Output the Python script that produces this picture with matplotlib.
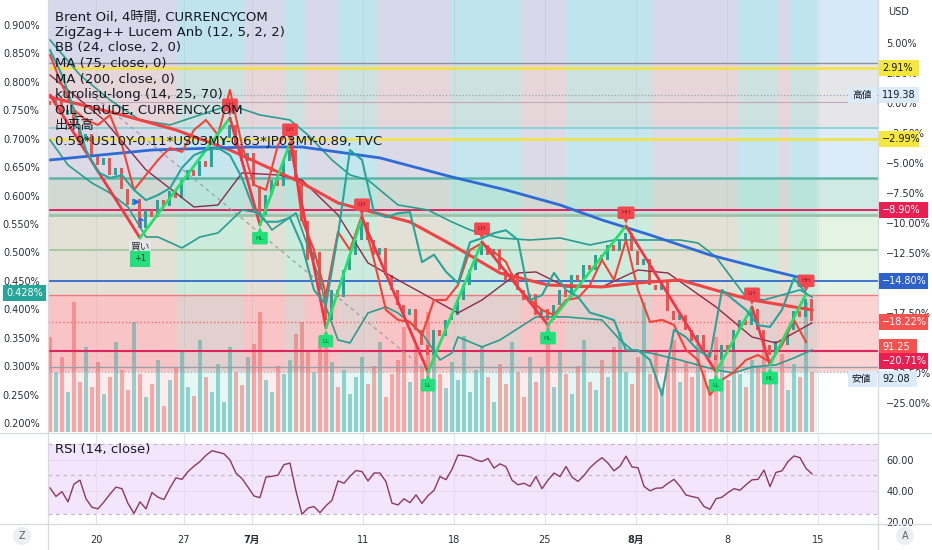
import numpy as np
import matplotlib
matplotlib.use("Agg")
import matplotlib.pyplot as plt
from matplotlib.patches import Rectangle, Circle
from matplotlib.lines import Line2D
import matplotlib.transforms as mtransforms

plt.rcParams['font.family'] = ['DejaVu Sans', 'Noto Sans CJK JP']

# ---------------- data (Brent 4h, percent vs. reference price) ----------------
closes = [-0.2, 0.3, -1.0, -0.6, -1.8, -3.1, -2.6, -4.3,
          -5.2, -4.6, -6.0, -5.4, -7.2, -8.5, -8.0, -10.4,
          -8.9, -9.5, -8.1, -8.6, -7.3, -7.9, -6.4, -5.6,
          -6.1, -4.8, -5.3, -3.9, -3.5, -2.9, -1.8, -3.6,
          -4.8, -4.2, -6.9, -9.3, -7.7, -6.4, -6.9, -4.8,
          -3.9, -6.4, -9.8, -13.1, -12.4, -15.6, -18.1, -15.6,
          -16.2, -13.9, -12.7, -11.4, -9.9, -11.4, -12.7, -12.1,
          -14.3, -15.6, -16.8, -17.7, -17.2, -18.9, -20.2, -21.0,
          -18.9, -19.4, -18.1, -17.7, -16.4, -15.2, -13.9, -12.7,
          -11.8, -12.7, -12.2, -13.9, -14.8, -14.2, -15.6, -16.4,
          -15.9, -17.7, -17.2, -18.1, -16.8, -15.6, -16.2, -14.3,
          -14.8, -13.5, -13.9, -12.7, -13.1, -11.8, -12.3, -11.4,
          -10.8, -12.3, -13.5, -13.0, -15.2, -15.6, -14.9, -17.3,
          -18.1, -17.7, -18.9, -19.8, -19.3, -20.6, -21.0, -21.4,
          -20.2, -20.6, -18.9, -18.1, -18.5, -17.2, -18.9, -20.2,
          -21.0, -19.8, -20.2, -18.9, -17.3, -17.8, -16.3, -18.2]

volumes = [95, 60, 75, 40, 130, 50, 85, 45, 70, 38, 55, 90, 62, 42, 110, 58,
           35, 48, 72, 26, 52, 64, 80, 45, 36, 92, 55, 40, 68, 30, 85, 60,
           47, 75, 88, 120, 52, 40, 66, 58, 72, 98, 110, 80, 60, 95, 100, 70,
           45, 62, 38, 55, 75, 48, 66, 90, 35, 58, 72, 105, 50, 86, 64, 120,
           80, 58, 44, 70, 52, 96, 40, 62, 85, 55, 30, 68, 48, 90, 60, 35,
           75, 50, 64, 110, 45, 80, 58, 38, 66, 92, 50, 42, 72, 55, 85, 100,
           60, 48, 75, 130, 58, 82, 44, 68, 92, 50, 70, 55, 88, 62, 46, 95,
           70, 52, 80, 58, 45, 72, 66, 90, 50, 60, 78, 42, 68, 55, 130, 60]

rsi = [42, 36.5, 39.6, 33, 44.5, 47, 35, 29.5, 28.5, 33, 38, 42.5, 41.5, 32, 25.5, 33,
       28.5, 39, 36, 34.5, 42, 48.5, 47.5, 52.5, 56, 59, 63, 66, 65, 64, 60, 51.5,
       48, 42.5, 36.8, 35.7, 49, 49.5, 50.2, 57, 58, 40, 25, 29, 30, 26, 30.5, 34,
       46.5, 45, 49.5, 53.2, 52.5, 46.5, 51.6, 51.6, 46, 32.2, 31, 35, 32.5, 37.5, 32, 37,
       40.4, 49.3, 47.3, 54, 63.2, 62.8, 62, 60, 59, 61, 54.8, 57.5, 55.7, 47, 44, 45,
       43, 49.3, 41.5, 47, 51.6, 49.3, 55.8, 49, 46.2, 50, 55, 58.6, 61.5, 58, 53, 56,
       62.5, 55.5, 55, 43, 40.1, 41.8, 42, 45, 47.5, 43, 37.4, 36.4, 35.6, 30, 28.2, 35,
       36, 39, 41.5, 40.5, 44, 47.2, 47.5, 53.5, 42.8, 52, 53, 59, 62.6, 61.5, 54.6, 51]

# yield spread (left axis, %), every second bar
spread = [0.856, 0.812, 0.751, 0.680, 0.641, 0.631, 0.636, 0.610, 0.592, 0.601,
          0.613, 0.649, 0.671, 0.680, 0.684, 0.671, 0.631, 0.575, 0.554, 0.554,
          0.561, 0.513, 0.434, 0.408, 0.531, 0.680, 0.663, 0.571, 0.562, 0.569,
          0.571, 0.483, 0.496, 0.466, 0.446, 0.518, 0.525, 0.534, 0.539, 0.522,
          0.416, 0.425, 0.464, 0.434, 0.422, 0.394, 0.388, 0.381, 0.328, 0.328,
          0.311, 0.249, 0.364, 0.351, 0.328, 0.316, 0.434, 0.416, 0.399, 0.372,
          0.369, 0.399, 0.455, 0.428]

# OIL_CRUDE comparison (right axis, %), every second bar
oil = [4.0, 1.5, -0.58, -1.42, -1.83, -1.0, -3.5, -7.25, -6.0, -4.75,
       -3.75, -4.08, -2.25, -1.42, -2.67, 1.08, -3.5, -6.83, -7.25, -3.5,
       -2.08, -9.75, -12.25, -16.0, -10.75, -12.25, -9.33, -13.08, -17.25, -18.08,
       -18.25, -19.33, -16.42, -16.42, -15.17, -12.25, -11.67, -12.42, -13.25, -15.42,
       -16.42, -17.25, -17.67, -16.42, -16.25, -15.17, -13.08, -14.75, -11.42, -15.58,
       -18.25, -18.08, -18.5, -20.58, -21.42, -24.33, -23.08, -22.42, -21.42, -21.0,
       -21.58, -20.17, -18.08, -19.92]

ma75_x = [0, 12, 21, 30, 42, 48, 60, 67, 75, 83, 92, 98, 105, 112, 117, 127]
ma75_y = [0.5, -1.0, -2.25, -3.92, -6.67, -8.33, -9.92, -11.83, -14.17, -15.17,
          -15.33, -15.0, -14.75, -15.75, -16.42, -17.25]

ma200_x = [0, 17, 33, 42, 55, 67, 76, 85, 92, 100, 110, 118, 127]
ma200_y = [-4.75, -3.92, -3.67, -3.67, -4.58, -6.17, -7.25, -8.5, -9.75, -11.0,
           -12.67, -13.7, -14.8]

basis_x = [0, 5, 9, 16, 24, 28, 32, 38, 42, 48, 53, 58, 68, 72, 78, 81, 86, 92,
           98, 103, 111, 117, 121, 127]
basis_y = [2.33, 0.25, -1.42, -5.58, -8.67, -8.5, -5.83, -6.0, -6.42, -9.33, -13.33,
           -14.75, -17.5, -16.42, -14.17, -14.08, -15.33, -15.33, -13.92, -14.17,
           -17.0, -19.5, -20.0, -18.33]

bb_up_x = [0, 5, 10, 15, 20, 25, 30, 35, 40, 43, 47, 50, 53, 58, 63, 67, 70, 75,
           80, 85, 90, 94, 100, 105, 108, 111, 113, 116, 119, 125, 127]
bb_up_y = [5.25, 2.33, 0.25, -1.42, -1.83, -1.0, -0.17, -1.0, -1.42, -2.67, -4.75,
           -6.0, -6.42, -8.5, -8.92, -9.92, -10.58, -11.25, -11.42, -11.25, -11.83,
           -11.42, -11.42, -11.42, -11.67, -12.83, -14.17, -16.17, -16.42, -15.58,
           -16.17]

bb_lo_x = [0, 3, 7, 10, 13, 16, 18, 22, 25, 28, 32, 35, 37, 41, 43, 45, 46, 48,
           50, 53, 56, 58, 62, 65, 67, 68, 72, 75, 81, 86, 92, 95, 97, 100, 105,
           111, 114, 117, 121, 124, 127]
bb_lo_y = [-3.08, -5.17, -6.67, -7.5, -8.67, -11.17, -11.17, -12.08, -11.17, -10.83,
           -8.92, -9.17, -10.58, -9.17, -12.0, -14.75, -17.0, -19.75, -20.0, -17.5,
           -17.0, -17.5, -19.17, -21.42, -20.83, -19.5, -20.33, -19.75, -17.83,
           -17.83, -18.08, -19.75, -20.58, -20.83, -21.42, -22.25, -22.5, -22.0,
           -21.83, -21.25, -20.58]

zz_x = [0, 15, 30, 35, 40, 46, 52, 63, 72, 83, 96, 111, 117, 120, 126]
zz_y = [0.67, -11.25, -1.25, -10.17, -3.33, -18.75, -9.58, -22.42, -11.58, -18.5,
        -10.25, -22.42, -17.0, -21.83, -15.92]
zz_tags = ['', '', 'LH', 'HL', 'LH', 'LL', 'LH', 'LL', 'LH', 'HL', 'HH', 'LL', 'LH', 'HL', 'HH']

trend_x = [6.7, 63]
trend_y = [0.8, -22.4]

regime_edges = [-0.33, 21.2, 32.3, 39.2, 42.5, 48, 54.5, 66.7, 78.5, 86, 100.3,
                114.7, 121.3, 123.3, 127.8]
regime_bull = [False, True, False, True, False, True, False, True, False, True,
               False, True, False, True]

zone_tops = [8.6, 3.33, -2.08, -6.25, -9.33, -16.0]
zone_bots = [3.33, -2.08, -6.25, -9.33, -16.0, -22.42]
zone_cols = ['#d6e9f9', '#e6e6e9', '#dcebf8', '#cfeae2', '#e3f3e4', '#fbd3d3']

level_vals = [3.33, 2.91, 0.67, 0.08, -2.08, -2.99, -6.25, -8.90, -9.33, -12.25,
              -14.80, -16.0, -18.22, -20.71, -22.0, -22.42]
level_cols = ['#8d929e', '#f3e33c', '#98a2b6', '#c2a7ba', '#7fcfd6', '#f3e33c',
              '#5db6a6', '#e0245e', '#9cc2aa', '#a9c9a9', '#3268d0', '#f07a7e',
              '#f26b6b', '#e0245e', '#9a9ea8', '#a8adb8']
level_lw = [1.0, 1.8, 0.9, 0.8, 1.2, 1.8, 1.8, 1.4, 2.0, 1.5, 1.3, 1.0, 1.0, 1.5, 1.0, 0.9]
level_ls = ['-', '-', ':', '-', '-', '-', '-', '-', '-', '-', '-', '-', ':', '-', '-', ':']

right_ticks = [5, 2.5, 0, -2.5, -5, -7.5, -10, -12.5, -17.5, -22.5, -25]
left_ticks = [0.2, 0.25, 0.3, 0.35, 0.4, 0.45, 0.5, 0.55, 0.6, 0.65, 0.7, 0.75, 0.8, 0.85, 0.9]

date_pos = [7.67, 22.33, 33.67, 52.17, 67.33, 82.5, 97.67, 112.83, 128]
date_lbl = ['20', '27', '7月', '11', '18', '25', '8月', '8', '15']

legend_lines = ['Brent Oil, 4時間, CURRENCYCOM',
                'ZigZag++ Lucem Anb (12, 5, 2, 2)',
                'BB (24, close, 2, 0)',
                'MA (75, close, 0)',
                'MA (200, close, 0)',
                'kurolisu-long (14, 25, 70)',
                'OIL_CRUDE, CURRENCY.COM',
                '出来高',
                '0.59*US10Y-0.11*US03MY-0.63*JP03MY-0.89, TVC']

# ---------------- figure ----------------
W, H = 932, 550
fig = plt.figure(figsize=(W / 100, H / 100), dpi=100)
fig.patch.set_facecolor('white')
PX = mtransforms.Affine2D().scale(1 / W, -1 / H).translate(0, 1) + fig.transFigure

L, R, B = 48, 878, 432
RT, RB = 434, 524
main_rect = [L / W, 1 - B / H, (R - L) / W, B / H]
rsi_rect = [L / W, 1 - RB / H, (R - L) / W, (RB - RT) / H]

ax_bg = fig.add_axes(main_rect, zorder=0)
ax_vol = fig.add_axes(main_rect, zorder=1, sharex=ax_bg)
ax = fig.add_axes(main_rect, zorder=2, sharex=ax_bg, sharey=ax_bg)
ax_left = fig.add_axes(main_rect, zorder=3, sharex=ax_bg)
ax_rsi = fig.add_axes(rsi_rect, zorder=2, sharex=ax_bg)

ax_bg.set_xlim(-0.33, 138)
ax_bg.set_ylim(-27.42, 8.58)
ax_left.set_ylim(0.1842, 0.944)
ax_vol.set_ylim(0, 432)
ax_rsi.set_ylim(18.71, 76.77)

for a in (ax_bg, ax_vol, ax, ax_left, ax_rsi):
    for s in a.spines.values():
        s.set_visible(False)
for a in (ax_vol, ax, ax_left):
    a.patch.set_visible(False)
ax_bg.axis('off')
ax_vol.axis('off')

idx = np.arange(len(closes))
closes_a = np.array(closes)
opens_a = np.r_[closes_a[0] + 0.4, closes_a[:-1]]
up = closes_a >= opens_a
half_idx = np.arange(0, len(closes), 2)

# background zones and regime bands
ax_bg.set_facecolor('white')
for t, b_, c in zip(zone_tops, zone_bots, zone_cols):
    ax_bg.axhspan(b_, t, color=c, lw=0, zorder=0)
for a0, a1, bull in zip(regime_edges[:-1], regime_edges[1:], regime_bull):
    if bull:
        ax_bg.axvspan(a0, a1, color='#00b8a0', alpha=0.10, lw=0, zorder=1)
    else:
        ax_bg.axvspan(a0, a1, color='#e8364a', alpha=0.09, lw=0, zorder=1)
for p in date_pos:
    ax_bg.axvline(p, color='#b8bfcc', alpha=0.3, lw=0.8, zorder=2)

# volume
vcol = np.where(up, '#26a69a', '#ef5350')
ax_vol.bar(idx, volumes, width=0.55, color=vcol, alpha=0.45, lw=0)

# horizontal levels
for v, c, lw, ls in zip(level_vals, level_cols, level_lw, level_ls):
    ax.axhline(v, color=c, lw=lw, ls=ls, zorder=1)

# candles
ccol = np.where(up, '#26a69a', '#ef5350')
body = closes_a - opens_a
body = np.where(np.abs(body) < 0.15, np.sign(body + 1e-9) * 0.15, body)
ax.bar(idx, body, bottom=opens_a, width=0.5, color=ccol, lw=0, zorder=3)

# trend line
ax.plot(trend_x, trend_y, color='#9aa0aa', lw=0.9, ls=(0, (3, 3)), zorder=3)

# bollinger + MAs
ax.plot(bb_up_x, bb_up_y, color='#2a9d8f', lw=1.2, zorder=4)
ax.plot(bb_lo_x, bb_lo_y, color='#2a9d8f', lw=1.2, zorder=4)
ax.plot(basis_x, basis_y, color='#8e2a4a', lw=1.0, zorder=4)
ax.plot(ma75_x, ma75_y, color='#ee4444', lw=2.2, zorder=5)
ax.plot(ma200_x, ma200_y, color='#2f6bd6', lw=2.0, zorder=5)

# OIL_CRUDE comparison
ax.plot(half_idx, oil, color='#f44336', lw=1.5, zorder=6)

# zigzag
for i in range(len(zz_x) - 1):
    down = zz_y[i + 1] < zz_y[i]
    ax.plot(zz_x[i:i + 2], zz_y[i:i + 2], color='#f23645' if down else '#22e06a',
            lw=2.0, zorder=7, solid_capstyle='round')

def tag(i, v, txt, high):
    col = '#f5474e' if high else '#22e07a'
    tcol = '#8b1a2a' if high else '#0f6b3a'
    dy = 1 if high else -1
    off = mtransforms.ScaledTranslation(0, dy * 4.5 / 72, fig.dpi_scale_trans)
    ax.plot([i], [v], marker='v' if high else '^', ms=6, color=col, mew=0,
            transform=ax.transData + off, zorder=8)
    ax.annotate(txt, (i, v), xytext=(0, dy * 9.5), textcoords='offset points',
                ha='center', va='center', fontsize=4.5, color=tcol, zorder=9,
                bbox=dict(boxstyle='round,pad=0.6,rounding_size=0.25', fc=col, ec='none'))

for i, v, t in zip(zz_x, zz_y, zz_tags):
    if t:
        tag(i, v, t, t in ('HH', 'LH'))

# buy signal at first low
bx, bv = zz_x[1], zz_y[1]
ax.annotate('↑', (bx, bv), xytext=(0, 10), textcoords='offset points', ha='center',
            va='center', fontsize=10, color='#2962ff', fontweight='bold', zorder=9)
ax.annotate('▶', (bx, bv), xytext=(-2, 26), textcoords='offset points', ha='center',
            va='center', fontsize=6, color='#2962ff', zorder=9)
ax.annotate('買い', (bx, bv), xytext=(0, -6), textcoords='offset points', ha='center',
            va='center', fontsize=7, color='#333333', zorder=9,
            bbox=dict(boxstyle='square,pad=0.1', fc='#e8e8ee', ec='none', alpha=0.8))
ax.annotate('+1', (bx, bv), xytext=(0, -15), textcoords='offset points', ha='center',
            va='center', fontsize=6, color='#333333', zorder=9,
            bbox=dict(boxstyle='square,pad=0.45', fc='#22e07a', ec='none'))

# spread on left axis
ax_left.plot(half_idx, spread, color='#26a69a', lw=1.5, zorder=5)

# axis ticks (x ticks are shared, so only hide their labels here)
for a in (ax, ax_left):
    a.tick_params(axis='x', which='both', bottom=False, top=False,
                  labelbottom=False, labeltop=False)
ax.yaxis.set_ticks_position('right')
ax.set_yticks(right_ticks)
ax.set_yticklabels([f'{v:.2f}%'.replace('-', '−') for v in right_ticks])
ax.tick_params(axis='y', length=0, pad=6, labelsize=7, labelcolor='#2a2e39')
ax_left.yaxis.set_ticks_position('left')
ax_left.set_yticks(left_ticks)
ax_left.set_yticklabels([f'{v:.3f}%' for v in left_ticks])
ax_left.tick_params(axis='y', length=0, pad=6, labelsize=7, labelcolor='#2a2e39')

# RSI panel
ax_rsi.set_facecolor('white')
ax_rsi.axhspan(25, 70, color='#f3e5fb', lw=0, zorder=0)
for g in (40, 60):
    ax_rsi.axhline(g, color='#e6d8ee', lw=0.8, zorder=1)
for g in (70, 50, 25):
    ax_rsi.axhline(g, color='#c4b6c6', lw=0.9, ls=(0, (3, 3)), zorder=1)
for p in date_pos:
    ax_rsi.axvline(p, color='#e6e0ee', lw=0.8, zorder=1)
ax_rsi.plot(idx, rsi, color='#8b3a5e', lw=1.0, zorder=3)
ax_rsi.yaxis.set_ticks_position('right')
ax_rsi.set_yticks([20, 40, 60])
ax_rsi.set_yticklabels(['20.00', '40.00', '60.00'])
ax_rsi.tick_params(axis='y', length=0, pad=6, labelsize=7, labelcolor='#2a2e39')
ax_rsi.set_xticks(date_pos)
ax_rsi.set_xticklabels(date_lbl)
ax_rsi.tick_params(axis='x', length=0, pad=8, labelsize=7, labelcolor='#2a2e39')
for lab in ax_rsi.get_xticklabels():
    if '月' in lab.get_text():
        lab.set_fontweight('bold')
ax_rsi.text(0.008, 0.83, 'RSI (14, close)', transform=ax_rsi.transAxes, fontsize=9.5,
            color='#131722', va='center', zorder=5)

# separators
for (x0, y0, x1, y1) in [(R, 0, R, H), (L, 0, L, H), (0, 433, W, 433), (0, RB, W, RB)]:
    fig.add_artist(Line2D([x0, x1], [y0, y1], transform=PX, color='#d6d9e0', lw=0.9, zorder=15))

# legend
for k, s in enumerate(legend_lines):
    fig.text(55, 17 + k * 15.5, s, transform=PX, fontsize=9.5, color='#131722',
             va='center', zorder=20)

# price scale labels
def ypx(a, v):
    return H - a.transData.transform((0, v))[1]

def box(x0, x1, yc, text, fc, tc, fs=7, h=16, tx=None, ha='left'):
    fig.add_artist(Rectangle((x0, yc - h / 2), x1 - x0, h, transform=PX, fc=fc,
                             ec='none', zorder=21))
    fig.text(x0 + 3 if tx is None else tx, yc, text, transform=PX, fontsize=fs,
             color=tc, va='center', ha=ha, zorder=22)

box(879, 919, ypx(ax, 2.91), '2.91%', '#f5e73e', '#131722')
box(879, 919, ypx(ax, 0.67), '119.38', '#dcebfa', '#131722')
box(848, 877, ypx(ax, 0.67), '高値', '#dcebfa', '#131722', tx=852)
box(879, 919, ypx(ax, -2.99), '−2.99%', '#f5e73e', '#131722')
box(879, 928, ypx(ax, -8.90), '−8.90%', '#e91e52', 'white')
box(879, 928, ypx(ax, -14.80), '−14.80%', '#2f62c9', 'white')
box(879, 928, ypx(ax, -18.22), '−18.22%', '#f4514f', 'white')
box(879, 917, ypx(ax, -18.22) + 25, '91.25', '#f4514f', 'white')
box(879, 928, ypx(ax, -20.71) + 10, '−20.71%', '#e91e52', 'white')
box(879, 917, ypx(ax, -22.42) + 7, '92.08', '#dcebfa', '#131722')
box(848, 877, ypx(ax, -22.42) + 7, '安値', '#dcebfa', '#131722', tx=852)
box(3, 46, ypx(ax_left, 0.428), '0.428%', '#26a69a', 'white')

fig.text(888, 12, 'USD', transform=PX, fontsize=7, color='#2a2e39', va='center')

for cx, t in [(22, 'Z'), (905, 'A')]:
    fig.add_artist(Circle((cx, 536), 9, transform=PX, fc='#eceef2', ec='none', zorder=20))
    fig.text(cx, 536, t, transform=PX, fontsize=7, color='#5d606b', ha='center',
             va='center', zorder=21)

fig.savefig('out.png', dpi=100)
